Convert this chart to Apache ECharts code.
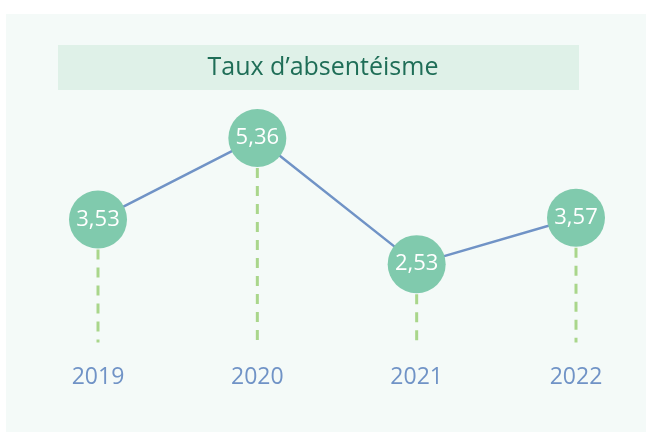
<!DOCTYPE html>
<html>
<head>
<meta charset="utf-8">
<script src="https://cdn.jsdelivr.net/npm/echarts@6/dist/echarts.min.js"></script>
<style>html,body{margin:0;padding:0;background:#fff;}#c{width:646px;height:432px;}</style>
</head>
<body>
<div id="c"></div>
<script>
const titleText = 'Taux d’absentéisme';
const categories = ['2019', '2020', '2021', '2022'];
const values = [3.53, 5.36, 2.53, 3.57];

const chart = echarts.init(document.getElementById('c'), null, {renderer: 'canvas'});
const fmt = v => String(v.toFixed(2)).replace('.', ',');

chart.setOption({
  animation: false,
  backgroundColor: '#ffffff',
  graphic: [
    {type: 'rect', z: -10, silent: true, shape: {x: 6, y: 14, width: 640, height: 418}, style: {fill: '#f4faf8'}},
    {type: 'rect', z: -9, silent: true, shape: {x: 58, y: 45, width: 521, height: 45}, style: {fill: '#dff1e8'}}
  ],
  title: {
    text: titleText,
    left: 'center',
    top: 55,
    padding: 0,
    textStyle: {color: '#1f6e57', fontSize: 25, fontWeight: 'normal', fontFamily: 'Open Sans', lineHeight: 25}
  },
  grid: {left: 98, right: 70, top: 109.5, bottom: 77.4, containLabel: false},
  xAxis: {
    type: 'category',
    data: categories,
    boundaryGap: false,
    axisLine: {show: false},
    axisTick: {show: false},
    splitLine: {show: false},
    axisLabel: {color: '#7093c6', fontSize: 23, fontFamily: 'Open Sans', margin: 11}
  },
  yAxis: {
    type: 'value',
    min: 0.5,
    max: 6,
    show: false,
    splitLine: {show: false}
  },
  series: [
    {
      type: 'custom',
      z: 1,
      silent: true,
      data: values.map((v, i) => [i, v]),
      renderItem: function (params, api) {
        const p = api.coord([api.value(0), api.value(1)]);
        const b = api.coord([api.value(0), 0.5]);
        return {
          type: 'line',
          shape: {x1: p[0], y1: p[1] + 30, x2: p[0], y2: b[1] - 12},
          style: {stroke: '#a9d68b', lineWidth: 3, lineDash: [10, 8]}
        };
      }
    },
    {
      type: 'line',
      z: 3,
      data: values,
      symbol: 'circle',
      symbolSize: 58,
      lineStyle: {color: '#7093c6', width: 2.5},
      itemStyle: {color: '#80caad'},
      emphasis: {disabled: true},
      label: {
        show: true,
        position: 'inside',
        color: '#ffffff',
        fontSize: 22,
        fontFamily: 'Open Sans',
        formatter: p => fmt(p.value)
      }
    }
  ]
});
</script>
</body>
</html>
